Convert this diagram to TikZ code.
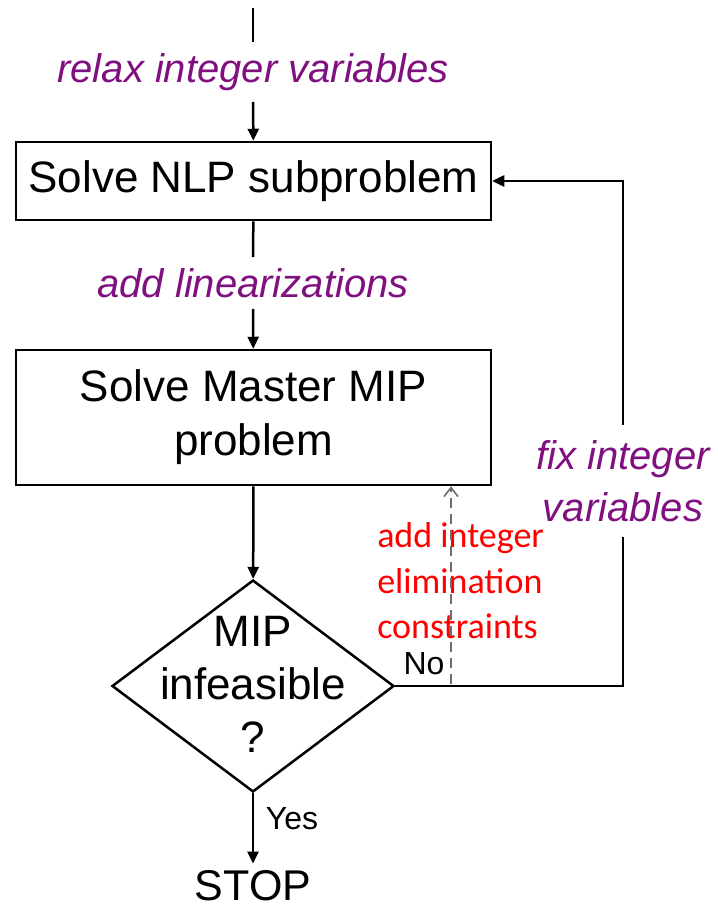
\documentclass[tikz,border=0pt]{standalone}
\usepackage{fontspec}
\setmainfont{Liberation Sans}
\newfontfamily\calibri{Carlito}
\usepackage{xcolor}
\usetikzlibrary{arrows.meta, positioning, calc, shapes.geometric}
\definecolor{steppurple}{RGB}{128,16,128}
\definecolor{cutgray}{RGB}{110,110,110}

\begin{document}
\begin{tikzpicture}[x=1pt, y=-1pt, line width=2.5pt,
    box/.style={draw, rectangle, minimum width=475pt, inner sep=0pt,
        font=\fontsize{44}{54}\selectfont, align=center},
    decision/.style={draw, diamond, minimum width=282pt, minimum height=212pt, inner sep=0pt},
    steplabel/.style={font=\fontsize{40}{52}\selectfont\itshape, text=steppurple,
        inner sep=10pt, align=center},
    answer/.style={font=\fontsize{32}{38}\selectfont, inner sep=0pt},
    flow/.style={-{Triangle[length=12pt,width=11pt]}}]
    \useasboundingbox (0,0) rectangle (718,911);

    % boxes
    \node[box, minimum height=78pt] (nlp) at (253.5,181) {Solve NLP subproblem};
    \node[box, minimum height=135pt] (mip) at (253.5,417.5) {Solve Master MIP\\problem};
    \node[decision] (dec) at (253,686) {};
    \node[font=\fontsize{44}{53}\selectfont, align=center, inner sep=0pt] (dectext) at (253,684)
        {MIP\\infeasible\\?};
    \node[font=\fontsize{43}{52}\selectfont, inner sep=1pt] (stop) at (253,886) {STOP};

    % labels
    \node[steplabel] (relax) at (253,72) {relax integer variables};
    \node[steplabel] (lin) at (253,283) {add linearizations};
    \node[steplabel, inner sep=14pt] (fix) at (623,481) {fix integer\\variables};
    \node[font=\calibri\fontsize{36}{45.5}\selectfont, text=red, align=left,
        anchor=west, inner sep=0pt] (elim) at (376,581) {add integer\\elimination\\constraints};
    \node[answer] (no) at (424,664) {No};
    \node[answer] (yes) at (292,819) {Yes};

    % connectors
    \coordinate (start) at (253,8);
    \coordinate (split) at (451,684);
    \draw (start) -- (relax);
    \draw[flow] (relax) -- (nlp);
    \draw (nlp) -- (lin);
    \draw[flow] (lin) -- (mip);
    \draw[flow] (mip) -- (dec);
    \draw[flow, shorten >=5pt] (dec) -- (stop);
    \draw (dec.east) -| (fix);
    \draw[flow] (fix) |- (nlp);
    \draw[cutgray, line width=1.6pt, dash pattern=on 10pt off 6pt,
        -{Straight Barb[length=9pt,width=14pt]}] (split) -- (split |- mip.south);
\end{tikzpicture}
\end{document}
